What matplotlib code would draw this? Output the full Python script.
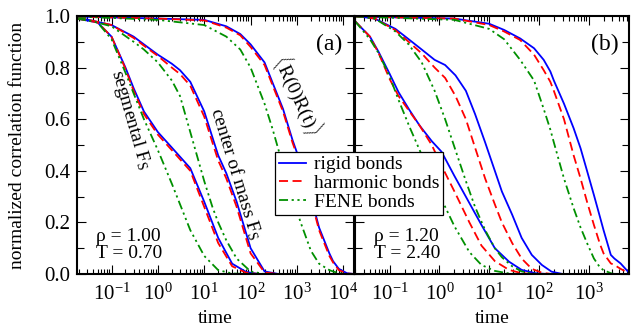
import matplotlib
matplotlib.use('Agg')
import matplotlib.pyplot as plt
from matplotlib.ticker import MultipleLocator, NullFormatter, LogLocator

plt.rcParams['font.family'] = ['Liberation Serif', 'DejaVu Serif']
plt.rcParams['mathtext.fontset'] = 'custom'
plt.rcParams['mathtext.rm'] = 'Liberation Serif'
plt.rcParams['mathtext.it'] = 'Liberation Serif:italic'

# ---- panel (a): rho = 1.00, T = 0.70 ----
t_seg_a = [0.018, 0.05, 0.1, 0.2, 0.3, 0.5, 1, 2, 5, 10, 20, 40, 80, 150]
seg_a_rigid = [0.99, 0.975, 0.92, 0.80, 0.72, 0.63, 0.55, 0.49, 0.41, 0.28, 0.14, 0.04, 0.008, 0.0]
seg_a_harm = [0.99, 0.975, 0.92, 0.795, 0.71, 0.62, 0.54, 0.48, 0.40, 0.26, 0.12, 0.03, 0.005, 0.0]
seg_a_fene = [0.99, 0.975, 0.91, 0.78, 0.70, 0.60, 0.48, 0.35, 0.17, 0.07, 0.015, 0.002, 0.0, 0.0]

t_cm_a = [0.018, 0.1, 0.3, 0.5, 1, 2, 3, 5, 10, 15, 20, 30, 50, 100, 200, 400]
cm_a_rigid = [0.995, 0.965, 0.92, 0.89, 0.85, 0.815, 0.79, 0.745, 0.63, 0.53, 0.46, 0.39, 0.28, 0.10, 0.01, 0.0]
cm_a_harm = [0.995, 0.965, 0.915, 0.885, 0.845, 0.80, 0.775, 0.73, 0.61, 0.51, 0.44, 0.37, 0.26, 0.08, 0.006, 0.0]
cm_a_fene = [0.995, 0.96, 0.90, 0.87, 0.82, 0.75, 0.69, 0.55, 0.36, 0.26, 0.20, 0.13, 0.06, 0.01, 0.0, 0.0]

t_R_a = [0.018, 1, 10, 30, 60, 100, 200, 300, 500, 800, 1200, 2000, 3000, 5000, 6000, 8000, 12000, 17000]
R_a_rigid = [0.998, 0.99, 0.985, 0.96, 0.93, 0.89, 0.82, 0.74, 0.64, 0.52, 0.43, 0.30, 0.18, 0.08, 0.05, 0.02, 0.003, 0.0]
R_a_harm = [0.998, 0.99, 0.983, 0.955, 0.925, 0.88, 0.81, 0.73, 0.63, 0.51, 0.42, 0.29, 0.17, 0.07, 0.045, 0.015, 0.002, 0.0]
R_a_fene = [0.998, 0.985, 0.965, 0.92, 0.87, 0.80, 0.66, 0.56, 0.42, 0.30, 0.20, 0.09, 0.04, 0.015, 0.01, 0.003, 0.0, 0.0]
xticks_a = [1e-1, 1e0, 1e1, 1e2, 1e3, 1e4]

# ---- panel (b): rho = 1.20, T = 2.40 ----
t_seg_b = [0.02, 0.04, 0.06, 0.1, 0.15, 0.25, 0.4, 0.7, 1.1, 2, 4, 7, 13, 25, 45, 85, 150]
seg_b_rigid = [0.98, 0.92, 0.86, 0.775, 0.705, 0.635, 0.575, 0.515, 0.474, 0.38, 0.275, 0.19, 0.10, 0.048, 0.016, 0.003, 0.0]
seg_b_harm = [0.98, 0.92, 0.855, 0.755, 0.69, 0.63, 0.575, 0.50, 0.42, 0.32, 0.20, 0.11, 0.05, 0.016, 0.003, 0.0, 0.0]
seg_b_fene = [0.98, 0.91, 0.855, 0.765, 0.675, 0.57, 0.48, 0.37, 0.29, 0.185, 0.085, 0.035, 0.012, 0.002, 0.0, 0.0, 0.0]

t_cm_b = [0.02, 0.05, 0.13, 0.24, 0.44, 0.8, 1.3, 2.1, 3.4, 5.2, 8.3, 13, 18, 29, 45, 72, 115, 180, 300]
cm_b_rigid = [1.0, 0.99, 0.95, 0.91, 0.87, 0.83, 0.81, 0.77, 0.71, 0.62, 0.51, 0.40, 0.32, 0.23, 0.14, 0.074, 0.035, 0.009, 0.0]
cm_b_harm = [1.0, 0.99, 0.945, 0.90, 0.855, 0.80, 0.76, 0.69, 0.60, 0.49, 0.37, 0.27, 0.20, 0.12, 0.06, 0.02, 0.005, 0.0, 0.0]
cm_b_fene = [1.0, 0.99, 0.94, 0.89, 0.82, 0.71, 0.60, 0.48, 0.36, 0.26, 0.17, 0.10, 0.065, 0.03, 0.01, 0.002, 0.0, 0.0, 0.0]

t_R_b = [0.02, 2, 10, 20, 42, 80, 125, 170, 200, 320, 500, 690, 930, 1280, 1700, 2000, 2800, 3300, 4400, 6500]
R_b_rigid = [0.998, 0.99, 0.97, 0.946, 0.913, 0.875, 0.83, 0.785, 0.75, 0.66, 0.565, 0.487, 0.40, 0.306, 0.22, 0.17, 0.074, 0.06, 0.041, 0.005]
R_b_harm = [0.998, 0.99, 0.965, 0.94, 0.907, 0.85, 0.79, 0.745, 0.71, 0.60, 0.46, 0.37, 0.28, 0.19, 0.115, 0.08, 0.041, 0.035, 0.02, 0.003]
R_b_fene = [0.998, 0.985, 0.95, 0.91, 0.83, 0.75, 0.64, 0.56, 0.51, 0.37, 0.255, 0.18, 0.12, 0.06, 0.025, 0.015, 0.003, 0.0, 0.0, 0.0]
xticks_b = [1e-1, 1e0, 1e1, 1e2, 1e3]

labels = ['rigid bonds', 'harmonic bonds', 'FENE bonds']
colors = ['#0000ff', '#ff0000', '#009000']
dashes = [None, (5, 2.5), (5, 2, 1.2, 2, 1.2, 2)]

panels = [
    dict(groups=[(t_seg_a, [seg_a_rigid, seg_a_harm, seg_a_fene]),
                 (t_cm_a, [cm_a_rigid, cm_a_harm, cm_a_fene]),
                 (t_R_a, [R_a_rigid, R_a_harm, R_a_fene])],
         xlim=(0.018, 17000), xticks=xticks_a, tag='(a)', state='ρ = 1.00\nT = 0.70'),
    dict(groups=[(t_seg_b, [seg_b_rigid, seg_b_harm, seg_b_fene]),
                 (t_cm_b, [cm_b_rigid, cm_b_harm, cm_b_fene]),
                 (t_R_b, [R_b_rigid, R_b_harm, R_b_fene])],
         xlim=(0.02, 6500), xticks=xticks_b, tag='(b)', state='ρ = 1.20\nT = 2.40'),
]

fig = plt.figure(figsize=(6.31, 3.27), dpi=100)
ax_a = fig.add_axes([77 / 631, 1 - 274 / 327, 277 / 631, 258 / 327])
ax_b = fig.add_axes([355 / 631, 1 - 274 / 327, 274 / 631, 258 / 327])

handles = []
for ax, p in zip([ax_a, ax_b], panels):
    for t, series in p['groups']:
        for k, y in enumerate(series):
            ln, = ax.plot(t, y, color=colors[k], lw=1.3)
            if dashes[k] is not None:
                ln.set_dashes(dashes[k])
            if ax is ax_a and len(handles) < 3:
                handles.append(ln)
    ax.set_xscale('log')
    ax.set_xticks(p['xticks'])
    ax.set_xlim(*p['xlim'])
    ax.set_ylim(0, 1)
    ax.yaxis.set_major_locator(MultipleLocator(0.2))
    ax.yaxis.set_minor_locator(MultipleLocator(0.1))
    ax.xaxis.set_minor_locator(LogLocator(base=10, subs=range(2, 10), numticks=20))
    ax.xaxis.set_minor_formatter(NullFormatter())
    ax.tick_params(which='both', direction='in', top=True, right=True, labelsize=15, width=0.8)
    ax.tick_params(which='major', length=6.5, pad=5)
    ax.tick_params(axis='x', which='major', pad=7)
    ax.tick_params(which='minor', length=3.8)
    ax.tick_params(axis='y', which='minor', length=5)
    for s in ax.spines.values():
        s.set_linewidth(1.5)
    ax.set_xlabel('time', fontsize=14)
    ax.xaxis.set_label_coords(0.5, -0.14)
    ax.text(0.91, 0.888, p['tag'], transform=ax.transAxes, fontsize=17, ha='center', va='center')
    ax.text(0.068, 0.112, p['state'], transform=ax.transAxes, fontsize=14,
            ha='left', va='center', linespacing=1.0)

ax_b.tick_params(axis='y', labelleft=False)
ax_a.set_ylabel('normalized correlation function', fontsize=14)
ax_a.yaxis.set_label_coords(-0.184, 0.5)

ax_a.text(0.191, 0.597, r'segmental F$_\mathrm{S}$', transform=ax_a.transAxes,
          fontsize=14, rotation=-74, ha='center', va='center', rotation_mode='anchor')
ax_a.text(0.574, 0.391, r'center of mass F$_\mathrm{S}$', transform=ax_a.transAxes,
          fontsize=14, rotation=-73, ha='center', va='center', rotation_mode='anchor')
ax_a.text(0.798, 0.694, r'$\langle\mathrm{R(0)R(t)}\rangle$', transform=ax_a.transAxes,
          fontsize=14, rotation=-65, ha='center', va='center', rotation_mode='anchor')

leg = fig.legend(handles, labels, loc='upper left', bbox_to_anchor=(275 / 631, 1 - 152 / 327),
                 fontsize=14, frameon=True, fancybox=False, framealpha=1, edgecolor='black',
                 borderpad=0.2, labelspacing=0.05, handlelength=1.4, handletextpad=0.4,
                 borderaxespad=0)
leg.get_frame().set_linewidth(0.9)

fig.savefig('out.png', dpi=100)
